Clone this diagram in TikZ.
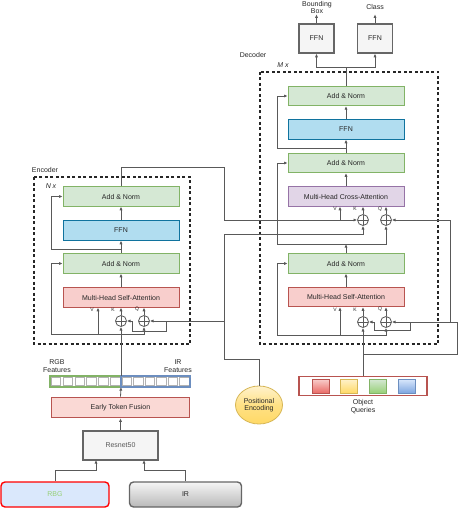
\documentclass[tikz,border=0pt]{standalone}
\usepackage{fontspec}
\setsansfont{Liberation Sans}
\usetikzlibrary{fit,shapes}
\usetikzlibrary{calc}
\usetikzlibrary{arrows.meta}
\definecolor{anfill}{HTML}{D5E8D4}
\definecolor{andraw}{HTML}{82B366}
\definecolor{ffnfill}{HTML}{B1DDF0}
\definecolor{ffndraw}{HTML}{10739E}
\definecolor{safill}{HTML}{F8CECC}
\definecolor{sadraw}{HTML}{B85450}
\definecolor{cafill}{HTML}{E1D5E7}
\definecolor{cadraw}{HTML}{9673A6}
\definecolor{gyfill}{HTML}{F5F5F5}
\definecolor{gydraw}{HTML}{666666}
\definecolor{etffill}{HTML}{FAD9D5}
\definecolor{etfdraw}{HTML}{B85450}
\definecolor{rbgfill}{HTML}{DAE8FC}
\definecolor{rbgtext}{HTML}{97D077}
\definecolor{pelight}{HTML}{FFF2CC}
\definecolor{pedark}{HTML}{FFD966}
\definecolor{pedraw}{HTML}{D6B656}
\definecolor{bluedraw}{HTML}{6C8EBF}
\definecolor{redsq}{HTML}{EA6B66}
\definecolor{greensq}{HTML}{97D077}
\definecolor{bluesq}{HTML}{7EA6E0}
\definecolor{linec}{HTML}{595959}
\def\encbox{(34,177) rectangle (190,344)}
\def\decbox{(260,72) rectangle (438,344)}

\begin{document}
\begin{tikzpicture}[x=1pt,y=-1pt,>={Latex[length=3.6pt,width=3.2pt]},
    every node/.style={font=\sffamily\fontsize{7}{7.6}\selectfont,text=black!85},
    wire/.style={draw=linec,line width=0.8pt},
    blk/.style={rectangle,minimum width=116pt,minimum height=19.5pt,inner sep=0pt,line width=0.8pt},
    addnorm/.style={blk,fill=anfill,draw=andraw},
    ffnbox/.style={blk,fill=ffnfill,draw=ffndraw},
    selfatt/.style={blk,fill=safill,draw=sadraw},
    crossatt/.style={blk,fill=cafill,draw=cadraw},
    head/.style={rectangle,fill=gyfill,draw=gydraw,line width=1.4pt,minimum width=35pt,minimum height=29pt,inner sep=0pt},
    plus/.style={circle,draw=linec,fill=white,minimum size=11pt,inner sep=0pt,line width=0.8pt,
        path picture={\draw[linec,line width=0.6pt] (path picture bounding box.north) -- (path picture bounding box.south)
            (path picture bounding box.west) -- (path picture bounding box.east);}},
    tag/.style={font=\sffamily\fontsize{5}{5.5}\selectfont},
    cell/.style={rectangle,draw=gray!60,fill=white,minimum width=9.5pt,minimum height=8pt,inner sep=0pt,line width=0.5pt},
    query/.style={rectangle,minimum width=17pt,minimum height=14pt,inner sep=0pt,line width=0.6pt}]
\useasboundingbox (0,0) rectangle (460,508);

   \draw[black!85,line width=1.3pt,dash pattern=on 3pt off 2.5pt] \encbox;
   \draw[black!85,line width=1.3pt,dash pattern=on 3pt off 2.5pt] \decbox;
\node (encLbl) at (45,170) {Encoder};
\node (encN) at (51,186) {\itshape N x};
\node (decLbl) at (253,55) {Decoder};
\node (decM) at (283,65) {\itshape M x};

\node[addnorm] (encAN2) at (121,196.5) {Add \& Norm};
\node[ffnbox] (encFFN) at (121,230.5) {FFN};
\node[addnorm] (encAN1) at (121,263.5) {Add \& Norm};
\node[selfatt] (encMHA) at (121,297.5) {Multi-Head Self-Attention};
\node[plus] (encK) at (121,321) {};
\node[plus] (encQ) at (144,321) {};
\node[tag] (encVt) at (92,309.5) {V};
\node[tag] (encKt) at (113,309.5) {K};
\node[tag] (encQt) at (137,309.5) {Q};

\node[addnorm] (decAN3) at (346,96) {Add \& Norm};
\node[ffnbox] (decFFN) at (346,129.5) {FFN};
\node[addnorm] (decAN2) at (346,163) {Add \& Norm};
\node[crossatt] (decMCA) at (346,196.5) {Multi-Head Cross-Attention};
\node[plus] (dK) at (363,220) {};
\node[plus] (dQ) at (386,220) {};
\node[tag] (decVt) at (335,209) {V};
\node[tag] (decKt) at (355,209) {K};
\node[tag] (decQt) at (380,209) {Q};
\node[addnorm] (decAN1) at (346,263.5) {Add \& Norm};
\node[selfatt] (decMHA) at (346,297) {Multi-Head Self-Attention};
\node[plus] (sK) at (363,322) {};
\node[plus] (sQ) at (386,322) {};
\node[tag] (selfVt) at (335,309.5) {V};
\node[tag] (selfKt) at (355,309.5) {K};
\node[tag] (selfQt) at (380,309.5) {Q};

\node[head] (bbFFN) at (316.5,38.5) {FFN};
\node[head] (clsFFN) at (375,38.5) {FFN};
\node[align=center] (bbLbl) at (317,7.5) {Bounding\\Box};
\node (clsLbl) at (375,7) {Class};

\foreach \i in {0,...,5} {
   \node[cell] (g\i) at ({50+11.83*(\i+0.5)},381.5) {};
   \node[cell] (b\i) at ({121+11.5*(\i+0.5)},381.5) {};
}
\node[rectangle,draw=andraw,line width=1.5pt,minimum width=71pt,minimum height=11pt,inner sep=0pt] (rgbBar) at (85.5,381.5) {};
\node[rectangle,draw=bluedraw,line width=1.5pt,minimum width=69pt,minimum height=11pt,inner sep=0pt] (irBar) at (155.5,381.5) {};
\node[align=center] (rgbLbl) at (57,366) {RGB\\Features};
\node[align=center] (irLbl) at (178,366) {IR\\Features};
\node[rectangle,fill=etffill,draw=etfdraw,line width=1.6pt,minimum width=138pt,minimum height=20pt,inner sep=0pt] (etf) at (120.5,407.5) {Early Token Fusion};
\node[head,minimum width=75pt,minimum height=29pt,text=black!65] (resnet) at (120.5,445.5) {Resnet50};
\node[rectangle,rounded corners=4pt,fill=rbgfill,draw=red,line width=1.4pt,minimum width=108pt,minimum height=25pt,text=rbgtext] (rbg) at (55,494.5) {RBG};
\node[rectangle,rounded corners=4pt,top color=gyfill,bottom color=gray!55,draw=gydraw,line width=1.4pt,minimum width=112pt,minimum height=25pt] (ir) at (185.5,494.5) {IR};
\node[ellipse,top color=pelight,bottom color=pedark,middle color=pedark!70!pelight,draw=pedraw,line width=0.8pt,minimum width=47pt,minimum height=38pt,inner sep=0pt,align=center] (posenc) at (259,405) {Positional\\Encoding};
\node[rectangle,draw=sadraw,line width=1.6pt,fill=white,minimum width=128pt,minimum height=19pt] (queries) at (363,386) {};
\node[query,top color=safill,bottom color=redsq,draw=sadraw] (qRed) at (320.5,386) {};
\node[query,top color=pelight,bottom color=pedark,draw=pedraw] (qYel) at (349,386) {};
\node[query,top color=anfill,bottom color=greensq,draw=andraw] (qGrn) at (378,386) {};
\node[query,top color=rbgfill,bottom color=bluesq,draw=bluedraw] (qBlu) at (406.5,386) {};
\node[align=center] (qLbl) at (363,406.5) {Object\\Queries};

\coordinate (featTop) at (121,376);
\coordinate (featBot) at (121,387);
\coordinate (encJ) at (121,334);
\coordinate (encL) at (51,334);
\coordinate (encV) at (98,334);
\coordinate (encR) at (121,249);
\draw[wire,->] (featTop) -- (encK.south);
\draw[wire,->] (encJ) -| (encQ.south);
\draw[wire,->] (encJ) -- (encL) |- (encAN1.west);
\draw[wire,->] (encV) -- (encV |- encMHA.south);
\draw[wire,->] (encK) -- (encK |- encMHA.south);
\draw[wire,->] (encQ) -- (encQ |- encMHA.south);
\draw[wire,->] (encMHA) -- (encAN1);
\draw[wire,->] (encAN1) -- (encFFN);
\draw[wire,->] (encFFN) -- (encAN2);
\draw[wire,->] (encR) -- ++(-70,0) |- (encAN2.west);

\coordinate (memA) at (224,167);
\coordinate (memB) at (224,220);
\coordinate (decV) at (340,220);
\draw[wire,->] (encAN2.north) |- (memA) -- (memB) -- (dK.west);
\draw[wire,->] (decV) -- (decV |- decMCA.south);

\coordinate (peA) at (224,359);
\coordinate (peB) at (224,234);
\coordinate (peC) at (224,321);
\coordinate (peD) at (166,321);
\coordinate (peE) at (132,321);
\draw[wire,->] (posenc.north) |- (peA) -- (peB) -| (dK.south);
\draw[wire,->] (peC) -- (encQ.east);
\draw[wire,->] (peD) -- ++(0,10) -| (peE) -- (encK.east);

\coordinate (qJ) at (363,354);
\coordinate (qR) at (457,354);
\coordinate (qB1) at (410,322);
\coordinate (qB2) at (374,322);
\coordinate (qC) at (450,322);
\draw[wire,->] (queries.north) -- (sK.south);
\draw[wire,->] (qJ) -- (qR) |- (sQ.east);
\draw[wire,->] (qB1) -- ++(0,8) -| (qB2) -- (sK.east);
\draw[wire,->] (qC) |- (dQ.east);

\coordinate (sJ) at (363,335);
\coordinate (sV) at (340,335);
\coordinate (sL) at (277,335);
\draw[wire,->] (sJ) -| (sQ.south);
\draw[wire,->] (sJ) -- (sL) |- (decAN1.west);
\draw[wire,->] (sV) -- (sV |- decMHA.south);
\draw[wire,->] (sK) -- (sK |- decMHA.south);
\draw[wire,->] (sQ) -- (sQ |- decMHA.south);
\draw[wire,->] (decMHA) -- (decAN1);

\coordinate (xJ) at (346,244);
\coordinate (xL) at (277,244);
\draw[wire,->] (decAN1) -- (xJ);
\draw[wire,->] (xL) -| (dQ.south);
\draw[wire,->] (xL) |- (decAN2.west);
\draw[wire,->] (dK) -- (dK |- decMCA.south);
\draw[wire,->] (dQ) -- (dQ |- decMCA.south);
\draw[wire,->] (decMCA) -- (decAN2);
\draw[wire,->] (decAN2) -- (decFFN);
\draw[wire,->] (decFFN) -- (decAN3);
\coordinate (dR) at (346,148);
\draw[wire,->] (dR) -- ++(-69,0) |- (decAN3.west);

\coordinate (outJ) at (346,67);
\draw[wire] (decAN3) -- (outJ);
\draw[wire,->] (outJ) -| (bbFFN.south);
\draw[wire,->] (outJ) -| (clsFFN.south);
\draw[wire,->] (bbFFN.north) -- ++(0,-9);
\draw[wire,->] (clsFFN.north) -- ++(0,-9);

\coordinate (resL) at (96,460);
\coordinate (resR) at (144,460);
\draw[wire,->] (etf.north) -- (featBot);
\draw[wire,->] (resnet) -- (etf);
\draw[wire,->] (rbg.north) -- ++(0,-11) -| (resL);
\draw[wire,->] (ir.north) -- ++(0,-11) -| (resR);
                            \end{tikzpicture}
\end{document}
